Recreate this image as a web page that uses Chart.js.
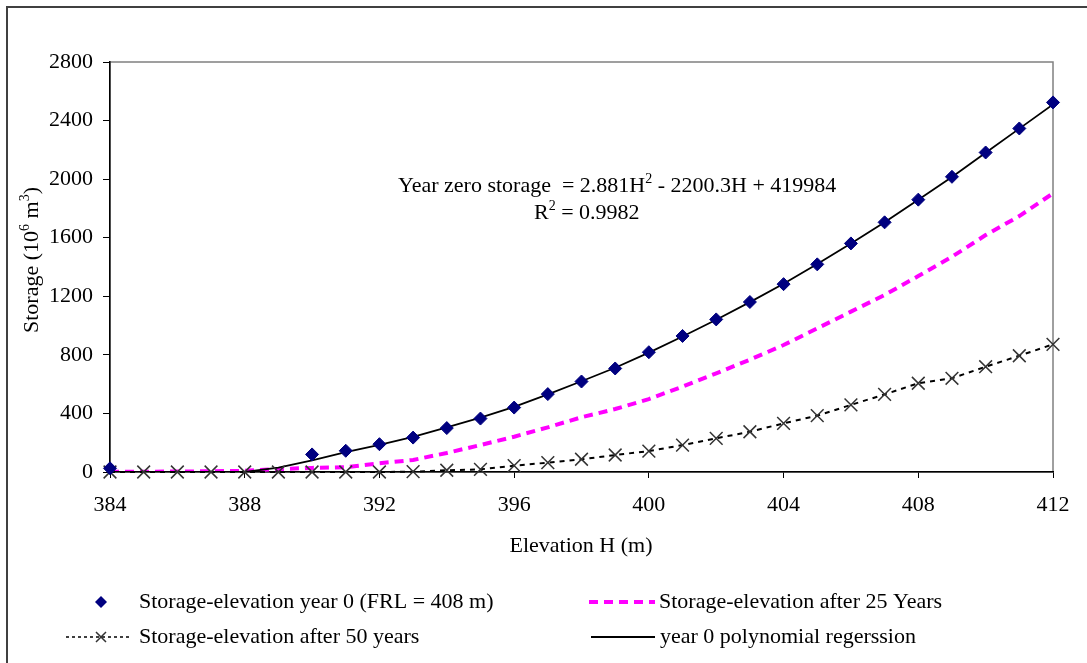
<!DOCTYPE html>
<html lang="en">
  <head>
    <meta charset="utf-8" />
    <title>Storage-elevation curves</title>
    <script src="https://cdn.jsdelivr.net/npm/chart.js@4.4.1/dist/chart.umd.min.js"></script>
    <style>
      * {
        margin: 0;
        padding: 0;
      }
      body {
        background: #fff;
      }
      #chart {
        display: block;
      }
    </style>
  </head>
  <body>
    <canvas id="chart" width="1087" height="663"></canvas>

    <script>
      // elevation H (m)
      const elevation = [
        384, 385, 386, 387, 388, 389, 390, 391, 392, 393, 394, 395, 396, 397, 398,
        399, 400, 401, 402, 403, 404, 405, 406, 407, 408, 409, 410, 411, 412,
      ];
      // storage (10^6 m^3)
      const storageYear0 = [
        25, null, null, null, null, null, 120, 145, 190, 235, 300, 365, 440, 532, 618,
        707, 818, 929, 1042, 1161, 1283, 1418, 1561, 1705, 1860, 2016, 2182, 2346, 2524,
      ];
      const storage25 = [
        2, 2, 3, 5, 8, 20, 28, 32, 60, 82, 130, 184, 241, 305, 374,
        430, 498, 583, 674, 767, 867, 981, 1095, 1209, 1338, 1470, 1618, 1748, 1903,
      ];
      const storage50 = [
        0, 0, 0, 0, 0, 0, 0, 0, 0, 2, 12, 18, 43, 64, 87,
        116, 143, 184, 230, 275, 332, 385, 458, 530, 606, 640, 719, 794, 872,
      ];
      const regressionYear0 = [
        0, 0, 0, 0, 0, 30, 80, 135, 185, 240, 305, 372, 445, 530, 620,
        712, 815, 925, 1040, 1160, 1285, 1420, 1560, 1705, 1860, 2015, 2180, 2345, 2510,
      ];

      const seriesNames = [
        "Storage-elevation year 0 (FRL = 408 m)",
        "Storage-elevation after 25 Years",
        "Storage-elevation after 50 years",
        "year 0 polynomial regerssion",
      ];

      const FONT = '"Liberation Serif", "Times New Roman", serif';
      const SIZE = 22;

      const toPoints = (ys) =>
        elevation.map((x, i) => ({ x: x, y: ys[i] }));

      // text with superscripts: parts = [[text, isSup], ...]
      function richWidth(ctx, parts) {
        let w = 0;
        parts.forEach(([t, sup]) => {
          ctx.font = (sup ? 14 : SIZE) + "px " + FONT;
          w += ctx.measureText(t).width;
        });
        return w;
      }
      function drawRich(ctx, parts, x, y) {
        ctx.textBaseline = "alphabetic";
        ctx.textAlign = "left";
        parts.forEach(([t, sup]) => {
          ctx.font = (sup ? 14 : SIZE) + "px " + FONT;
          ctx.fillText(t, x, sup ? y - 9 : y);
          x += ctx.measureText(t).width;
        });
      }

      function diamond(ctx, x, y, r) {
        ctx.beginPath();
        ctx.moveTo(x - r, y);
        ctx.lineTo(x, y - r);
        ctx.lineTo(x + r, y);
        ctx.lineTo(x, y + r);
        ctx.closePath();
        ctx.fillStyle = "#000080";
        ctx.fill();
      }
      function cross(ctx, x, y, r) {
        ctx.beginPath();
        ctx.moveTo(x - r, y - r);
        ctx.lineTo(x + r, y + r);
        ctx.moveTo(x + r, y - r);
        ctx.lineTo(x - r, y + r);
        ctx.strokeStyle = "#333";
        ctx.lineWidth = 1.5;
        ctx.setLineDash([]);
        ctx.stroke();
      }
      function sample(ctx, x1, x2, y, color, width, dash) {
        ctx.beginPath();
        ctx.moveTo(x1, y);
        ctx.lineTo(x2, y);
        ctx.strokeStyle = color;
        ctx.lineWidth = width;
        ctx.setLineDash(dash);
        ctx.stroke();
        ctx.setLineDash([]);
      }

      const decorations = {
        id: "decorations",
        beforeDraw(chart) {
          const ctx = chart.ctx;
          ctx.save();
          ctx.fillStyle = "#fff";
          ctx.fillRect(0, 0, chart.width, chart.height);
          // outer frame
          ctx.strokeStyle = "#404040";
          ctx.lineWidth = 2;
          ctx.beginPath();
          ctx.moveTo(7, chart.height);
          ctx.lineTo(7, 7);
          ctx.lineTo(chart.width, 7);
          ctx.stroke();
          // plot area box
          const a = chart.chartArea;
          ctx.strokeStyle = "#808080";
          ctx.lineWidth = 1.5;
          ctx.strokeRect(a.left, a.top, a.right - a.left, a.bottom - a.top);
          ctx.restore();
        },
        afterDraw(chart) {
          const ctx = chart.ctx;
          const a = chart.chartArea;
          ctx.save();
          ctx.fillStyle = "#000";

          // equation of the fitted curve
          drawRich(ctx, [
            ["Year zero storage  = 2.881H", false],
            ["2", true],
            [" - 2200.3H + 419984", false],
          ], 398, 192);
          drawRich(ctx, [["R", false], ["2", true], [" = 0.9982", false]], 534, 219);

          // x axis title
          ctx.font = SIZE + "px " + FONT;
          ctx.textAlign = "center";
          ctx.textBaseline = "alphabetic";
          ctx.fillText("Elevation H (m)", 581, 552);

          // y axis title
          const yParts = [
            ["Storage (10", false],
            ["6", true],
            [" m", false],
            ["3", true],
            [")", false],
          ];
          ctx.save();
          ctx.translate(38, 260);
          ctx.rotate(-Math.PI / 2);
          drawRich(ctx, yParts, -richWidth(ctx, yParts) / 2, 0);
          ctx.restore();

          // legend
          const r1 = 602, r2 = 637;
          ctx.font = SIZE + "px " + FONT;
          ctx.textAlign = "left";
          ctx.textBaseline = "middle";
          diamond(ctx, 101, r1, 6);
          ctx.fillStyle = "#000";
          ctx.fillText(seriesNames[0], 139, r1);
          sample(ctx, 589, 655, r1, "#ff00ff", 4, [9, 6]);
          ctx.fillText(seriesNames[1], 659, r1);
          sample(ctx, 66, 132, r2, "#000", 1.5, [3, 3]);
          cross(ctx, 101, r2, 5);
          ctx.fillStyle = "#000";
          ctx.fillText(seriesNames[2], 139, r2);
          sample(ctx, 591, 655, r2, "#000", 2, []);
          ctx.fillText(seriesNames[3], 660, r2);
          ctx.restore();
        },
      };

      const chart = new Chart(document.getElementById("chart"), {
        type: "scatter",
        plugins: [decorations],
        data: {
          datasets: [
            {
              label: seriesNames[0],
              data: toPoints(storageYear0),
              showLine: false,
              pointStyle: "rectRot",
              pointRadius: 6.5,
              pointBackgroundColor: "#000080",
              pointBorderColor: "#000080",
              pointBorderWidth: 1,
              clip: false,
              order: 0,
            },
            {
              label: seriesNames[1],
              data: toPoints(storage25),
              showLine: true,
              borderColor: "#ff00ff",
              borderWidth: 4,
              borderDash: [9, 6],
              pointRadius: 0,
              tension: 0,
              order: 3,
            },
            {
              label: seriesNames[2],
              data: toPoints(storage50),
              showLine: true,
              borderColor: "#000",
              borderWidth: 2,
              borderDash: [5, 5],
              pointStyle: "crossRot",
              pointRadius: 9,
              pointBorderColor: "#333",
              pointBorderWidth: 1.5,
              tension: 0,
              clip: false,
              order: 1,
            },
            {
              label: seriesNames[3],
              data: toPoints(regressionYear0),
              showLine: true,
              borderColor: "#000",
              borderWidth: 1.8,
              pointRadius: 0,
              tension: 0,
              order: 2,
            },
          ],
        },
        options: {
          responsive: false,
          animation: false,
          layout: { padding: { left: 0, top: 62, right: 34, bottom: 0 } },
          plugins: {
            legend: { display: false },
            tooltip: { enabled: false },
          },
          scales: {
            x: {
              type: "linear",
              min: 384,
              max: 412,
              afterFit: (s) => { s.height = 191; },
              grid: { display: true, drawOnChartArea: false, color: "#000", tickLength: 6 },
              border: { display: true, color: "#000", width: 1.5 },
              ticks: {
                stepSize: 4,
                color: "#000",
                padding: 14,
                font: { family: FONT, size: SIZE },
                callback: (v) => String(v),
              },
            },
            y: {
              min: 0,
              max: 2800,
              afterFit: (s) => { s.width = 110; },
              grid: { display: true, drawOnChartArea: false, color: "#000", tickLength: 7 },
              border: { display: true, color: "#000", width: 1.5 },
              ticks: {
                stepSize: 400,
                color: "#000",
                padding: 10,
                font: { family: FONT, size: SIZE },
                callback: (v) => String(v),
              },
            },
          },
        },
      });
    </script>
  </body>
</html>
